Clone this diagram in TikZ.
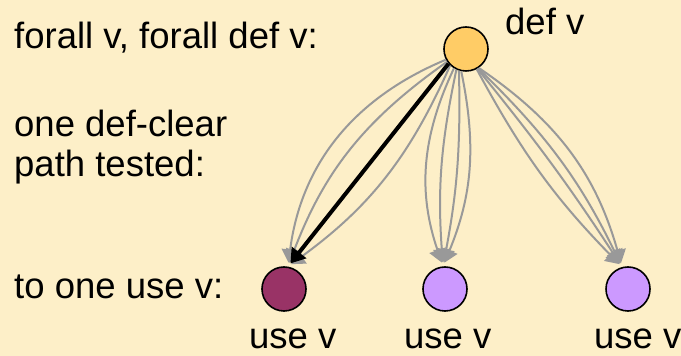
\documentclass[tikz,border=0pt]{standalone}
\usepackage{fontspec}
\setmainfont{Liberation Sans}
\usetikzlibrary{arrows.meta}
\definecolor{bgc}{RGB}{253,239,200}
\definecolor{deffill}{RGB}{255,204,102}
\definecolor{usedone}{RGB}{153,51,102}
\definecolor{usefill}{RGB}{204,153,255}
\definecolor{edgegray}{RGB}{153,153,153}
\tikzset{
  txt/.style={anchor=base west, inner sep=0pt, font=\fontsize{36.5}{40}\selectfont},
  vtx/.style={circle, draw=black, line width=1.6pt, minimum size=44pt, inner sep=0pt},
  grayedge/.style={draw=edgegray, line width=2pt, shorten >=4pt,
    -{Triangle[width=17pt,length=13pt]}, fill=none},
  blackedge/.style={draw=black, line width=4pt, shorten >=4pt,
    -{Triangle[width=18pt,length=14pt]}},
}
\begin{document}
\begin{tikzpicture}[x=1pt,y=1pt]
\fill[bgc] (0,0) rectangle (681,356);
\useasboundingbox (0,0) rectangle (681,356);
% texts
\node[txt] (t1) at (14,307) {forall v, forall def v:};
\node[txt] (t2) at (14,219) {one def-clear};
\node[txt] (t3) at (14,179) {path tested:};
\node[txt] (t4) at (14,57) {to one use v:};
% vertices
\node[vtx, fill=deffill] (def) at (466,307) {};
\node[vtx, fill=usedone] (u1) at (284,67) {};
\node[vtx, fill=usefill] (u2) at (445,67) {};
\node[vtx, fill=usefill] (u3) at (628,67) {};
% labels
\node[txt] (ldef) at (505,321) {def v};
\node[txt] (l1) at (249,7) {use v};
\node[txt] (l2) at (404,7) {use v};
\node[txt] (l3) at (594,7) {use v};
% left group
\draw[grayedge] (def.208) to[bend right=30] (u1.80);
\draw[grayedge] (def.214) to[bend right=17] (u1.80);
\draw[grayedge] (def.226) to[bend left=15] (u1.80);
% middle group
\draw[grayedge] (def.238) to[bend right=22] (u2.95);
\draw[grayedge] (def.245) to[bend right=8] (u2.95);
\draw[grayedge] (def.252) to[bend left=6] (u2.95);
\draw[grayedge] (def.258) to[bend left=17] (u2.95);
% right group
\draw[grayedge] (def.298) to[bend right=8] (u3.105);
\draw[grayedge] (def.300) to[bend left=3] (u3.105);
\draw[grayedge] (def.302) to[bend left=10] (u3.105);
\draw[grayedge] (def.304) to[bend left=20] (u3.105);
% tested path
\draw[blackedge] (def.220) -- (u1.80);
\end{tikzpicture}
\end{document}
